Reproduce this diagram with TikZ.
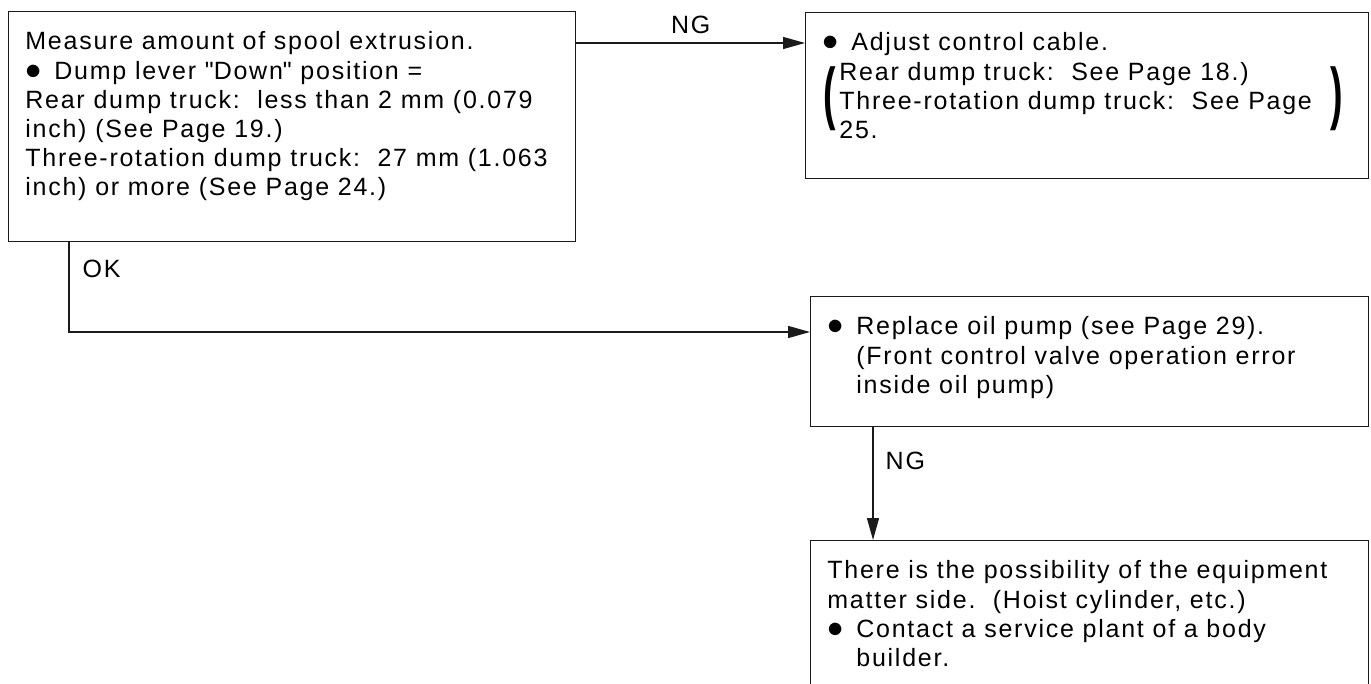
\documentclass[tikz,border=0pt]{standalone}
\usepackage{fontspec}
\setmainfont{Liberation Sans}[LetterSpace=7]
\usepackage{tikz}
\usetikzlibrary{arrows.meta}
\definecolor{tratto}{HTML}{1A1A1A}
\newcommand{\pallino}{\makebox[14.5pt][l]{\smash{\scalebox{1.35}{$\bullet$}}}}
\newcommand{\rientro}{\hspace*{14.5pt}}

\begin{document}
\begin{tikzpicture}[x=0.5pt, y=-0.5pt,
        every node/.style={font=\fontsize{12.5}{14.6}\selectfont, inner sep=0pt},
        scatola/.style={draw=tratto, line width=0.7pt, anchor=north west},
        testo/.style={anchor=north west, align=left},
        freccia/.style={draw=tratto, line width=0.7pt, -{Triangle[length=11pt, width=6pt]}}]
        % Area del disegno (pixel del riferimento)
        \useasboundingbox (0,0) rectangle (1371,684);

        % Riquadri: nome/angolo in alto a sinistra/larghezza/altezza
        \foreach \nome/\px/\py/\w/\h in {
                misura/8/11/567/230,
                cavo/805/12/563/166,
                pompa/810/296/558/130,
                officina/810/540/558/300}{
                \node[scatola, minimum width=\w*0.5pt, minimum height=\h*0.5pt] (\nome) at (\px,\py) {};
            }

        % Testi dei riquadri
        \node[testo] (misura-t) at ([shift={(17,18)}]misura.north west) {%
            \strut Measure amount of spool extrusion.\\
            \pallino Dump lever \textquotedbl Down\textquotedbl\ position =\\
            Rear dump truck:\ \ less than 2 mm (0.079\\
            inch) (See Page 19.)\\
            Three-rotation dump truck:\ \ 27 mm (1.063\\
            inch) or more (See Page 24.)};
        \node[testo] (cavo-t) at ([shift={(17,18)}]cavo.north west) {%
            \strut\pallino Adjust control cable.\\
            \hspace*{8.5pt}Rear dump truck:\ \ See Page 18.)\\
            \hspace*{8.5pt}Three-rotation dump truck:\ \ See Page\\
            \hspace*{8.5pt}25.};
        \node (parsx) at (830,99) {\scalebox{1.5}[2.75]{\bfseries(}};
        \node (pardx) at (1337,99) {\scalebox{1.5}[2.75]{\bfseries)}};
        \node[testo] (pompa-t) at ([shift={(17,18)}]pompa.north west) {%
            \strut\pallino Replace oil pump (see Page 29).\\
            \rientro(Front control valve operation error\\
            \rientro inside oil pump)};
        \node[testo] (officina-t) at ([shift={(17,18)}]officina.north west) {%
            \strut There is the possibility of the equipment\\
            matter side.\ \ (Hoist cylinder, etc.)\\
            \pallino Contact a service plant of a body\\
            \rientro builder.};

        % Collegamenti
        \coordinate (ng-a) at ([yshift=-16pt]misura.north east);
        \draw[freccia] (ng-a) -- (ng-a -| cavo.west)
        node[midway, above=4.5pt] {NG};
        \coordinate (ok-a) at ([xshift=30.5pt]misura.south west);
        \coordinate (ok-b) at ([yshift=-18pt]pompa.north west);
        \draw[freccia] (ok-a) |- (ok-b)
        node[pos=0.15, right=6.5pt] {OK};
        \coordinate (ng-b) at ([xshift=31.5pt]pompa.south west);
        \draw[freccia] (ng-b) -- (ng-b |- officina.north)
        node[pos=0.3, right=6pt] {NG};
    \end{tikzpicture}
\end{document}
